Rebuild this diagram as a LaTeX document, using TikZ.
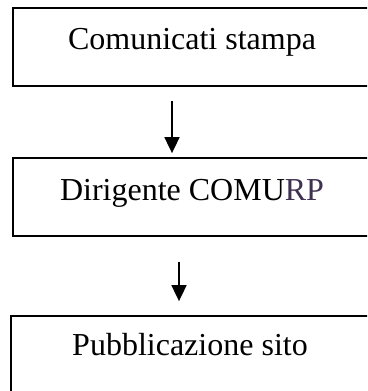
\documentclass[tikz,border=0pt]{standalone}
\usepackage{fontspec}
\setmainfont{Liberation Serif}
\usetikzlibrary{arrows.meta}
\definecolor{rpcol}{RGB}{63,49,81}
\begin{document}
\begin{tikzpicture}[x=1pt,y=1pt,
  box/.style={draw=black,line width=1.8pt,rectangle,inner sep=0pt,
    minimum width=358pt,font=\fontsize{32}{38}\selectfont},
  arr/.style={line width=1.8pt,-{Triangle[length=16pt,width=15pt]}}]
\useasboundingbox (0,0) rectangle (367,-391);
\clip (0,0) rectangle (367,-391);
\node[box,text height=41pt,text depth=37pt] (a) at (192,-47) {Comunicati stampa};
\node[box,text height=42pt,text depth=36pt] (b) at (192,-197) {Dirigente COMU\textcolor{rpcol}{RP}};
\node[box,text height=39pt,text depth=39pt] (c) at (190,-355) {Pubblicazione sito};
\draw[arr] ([xshift=-20pt,yshift=-14pt]a.south) -- ([xshift=-20pt,yshift=4pt]b.north);
\draw[arr] ([xshift=-13pt,yshift=-25pt]b.south) -- ([xshift=-11pt,yshift=14pt]c.north);
\end{tikzpicture}
\end{document}
